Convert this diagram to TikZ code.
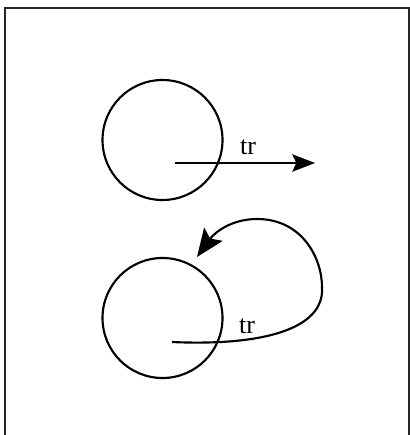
\documentclass[tikz,border=0pt]{standalone}
\usepackage{fontspec}
\setmainfont{Liberation Serif}
\usetikzlibrary{arrows.meta}
\begin{document}
\begin{tikzpicture}[x=0.75pt,y=-0.75pt,line width=1.6pt,
  ring/.style={circle,draw,minimum size=90pt,inner sep=0pt},
  lbl/.style={font=\fontsize{19.5}{22}\selectfont,inner sep=0pt},
  tip/.style={-{Stealth[length=17pt,width=13pt,inset=3pt]}},
  bigtip/.style={-{Stealth[length=21pt,width=17pt,inset=4pt]}}]
\useasboundingbox (0,0) rectangle (410,435);
\draw[line width=1.3pt,black!85] (5,8) rectangle (409,440);
% upper ring with straight translation
\node[ring] (ringA) at (162.5,140) {};
\coordinate (startA) at (175,163);
\coordinate (endA) at (315,163);
\draw[tip] (startA) -- (endA);
\node[lbl] (trA) at (248,147) {tr};
% lower ring with curved path back round
\node[ring] (ringB) at (162.5,318) {};
\coordinate (startB) at (172,342);
\coordinate (turnB) at (322,287);
\coordinate (topB) at (257,219);
\coordinate (endB) at (197,257);
\draw[bigtip] (startB) .. controls (260,346) and (325,330) .. (turnB)
  .. controls (322,258) and (302,219) .. (topB)
  .. controls (232,219) and (215,232) .. (endB);
\node[lbl] (trB) at (247,326) {tr};
\end{tikzpicture}
\end{document}
